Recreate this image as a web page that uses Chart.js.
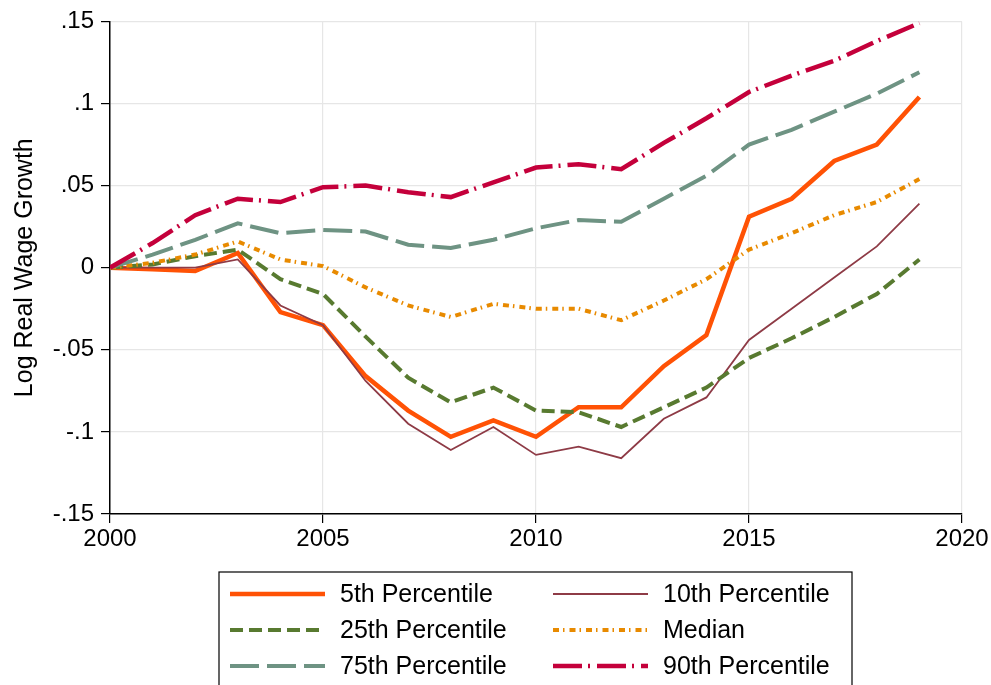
<!DOCTYPE html>
<html>
<head>
<meta charset="utf-8">
<script src="https://cdn.jsdelivr.net/npm/chart.js@4"></script>
<style>
  html, body { margin: 0; padding: 0; background: #fff; }
  canvas { display: block; }
</style>
</head>
<body>
<canvas id="chart" width="991" height="685"></canvas>
<script>
// log real wage growth since 2000, by percentile
const years = [2000, 2001, 2002, 2003, 2004, 2005, 2006, 2007, 2008, 2009,
               2010, 2011, 2012, 2013, 2014, 2015, 2016, 2017, 2018, 2019];

const p5     = [0, -0.001, -0.002, 0.009, -0.027, -0.035, -0.066, -0.087, -0.103, -0.093,
                -0.103, -0.085, -0.085, -0.060, -0.041, 0.031, 0.042, 0.065, 0.075, 0.104];
const p10    = [0, 0, 0, 0.005, -0.023, -0.035, -0.069, -0.095, -0.111, -0.097,
                -0.114, -0.109, -0.116, -0.092, -0.079, -0.044, -0.025, -0.006, 0.013, 0.039];
const p25    = [0, 0.002, 0.007, 0.011, -0.007, -0.016, -0.042, -0.067, -0.082, -0.073,
                -0.087, -0.088, -0.097, -0.085, -0.073, -0.055, -0.043, -0.030, -0.016, 0.005];
const median = [0, 0.003, 0.008, 0.016, 0.005, 0.001, -0.012, -0.023, -0.030, -0.022,
                -0.025, -0.025, -0.032, -0.020, -0.007, 0.011, 0.021, 0.032, 0.040, 0.054];
const p75    = [0, 0.008, 0.017, 0.027, 0.021, 0.023, 0.022, 0.014, 0.012, 0.017,
                0.024, 0.029, 0.028, 0.042, 0.056, 0.075, 0.084, 0.095, 0.106, 0.119];
const p90    = [0, 0.015, 0.032, 0.042, 0.040, 0.049, 0.050, 0.046, 0.043, 0.052,
                0.061, 0.063, 0.060, 0.076, 0.091, 0.107, 0.117, 0.126, 0.138, 0.149];

const seriesLabels = ['5th Percentile', '10th Percentile', '25th Percentile',
                      'Median', '75th Percentile', '90th Percentile'];
const xTicks = [2000, 2005, 2010, 2015, 2020];
const yTicks = [-0.15, -0.1, -0.05, 0, 0.05, 0.1, 0.15];

const FONT = "'Liberation Sans', Arial, Helvetica, sans-serif";

function pts(vals) {
  return vals.map((v, i) => ({ x: years[i], y: v }));
}

const styles = [
  { color: '#ff5205', width: 4.5, dash: [] },
  { color: '#8e3b46', width: 1.8, dash: [] },
  { color: '#587a30', width: 4,   dash: [13, 6] },
  { color: '#e88a00', width: 4,   dash: [6, 4, 1.5, 5] },
  { color: '#6e9383', width: 4,   dash: [29, 8] },
  { color: '#c4003b', width: 4.5, dash: [29, 6, 2, 7] }
];

const allSeries = [p5, p10, p25, median, p75, p90];

const datasets = allSeries.map((vals, i) => ({
  label: seriesLabels[i],
  data: pts(vals),
  borderColor: styles[i].color,
  borderWidth: styles[i].width,
  borderDash: styles[i].dash,
  pointRadius: 0,
  tension: 0,
  fill: false,
  order: allSeries.length - i
}));

// boxed two-column legend under the plot, like the Stata one
const boxLegend = {
  id: 'boxLegend',
  afterDraw(chart) {
    const ctx = chart.ctx;
    ctx.save();
    ctx.strokeStyle = '#000';
    ctx.lineWidth = 1.2;
    ctx.strokeRect(219, 572, 633, 130);
    const colX = [230, 553];
    const rowY = [594, 630, 666];
    chart.data.datasets.forEach((ds, i) => {
      const x = colX[i % 2];
      const y = rowY[Math.floor(i / 2)];
      ctx.beginPath();
      ctx.strokeStyle = ds.borderColor;
      ctx.lineWidth = ds.borderWidth;
      ctx.setLineDash(ds.borderDash);
      ctx.moveTo(x, y);
      ctx.lineTo(x + 95, y);
      ctx.stroke();
      ctx.setLineDash([]);
      ctx.fillStyle = '#000';
      ctx.font = '25px ' + FONT;
      ctx.textBaseline = 'middle';
      ctx.fillText(ds.label, x + 110, y + 1);
    });
    ctx.restore();
  }
};

new Chart(document.getElementById('chart'), {
  type: 'line',
  data: { datasets },
  options: {
    responsive: false,
    animation: false,
    layout: { padding: { top: 17, right: 29, bottom: 120, left: 0 } },
    plugins: {
      legend: { display: false },
      tooltip: { enabled: false }
    },
    scales: {
      x: {
        type: 'linear',
        min: 2000,
        max: 2020,
        afterBuildTicks: (s) => { s.ticks = xTicks.map(v => ({ value: v })); },
        afterFit: (s) => { s.height = 51; },
        ticks: {
          color: '#000',
          font: { family: FONT, size: 24 },
          padding: 2,
          maxRotation: 0,
          callback: (v) => String(v)
        },
        grid: { color: '#e6e6e6', lineWidth: 1.2, tickLength: 9, tickColor: '#000' },
        border: { color: '#000', width: 1.5 }
      },
      y: {
        min: -0.15,
        max: 0.15,
        afterBuildTicks: (s) => { s.ticks = yTicks.map(v => ({ value: v })); },
        afterFit: (s) => { s.width = 110; },
        ticks: {
          color: '#000',
          font: { family: FONT, size: 24 },
          padding: 7,
          callback: (v) => {
            const s = String(Number(v.toFixed(2)));
            return s.replace('0.', '.');
          }
        },
        title: {
          display: true,
          text: 'Log Real Wage Growth',
          color: '#000',
          font: { family: FONT, size: 25 },
          padding: { top: 10, bottom: 0 }
        },
        grid: { color: '#e6e6e6', lineWidth: 1.2, tickLength: 9, tickColor: '#000' },
        border: { color: '#000', width: 1.5 }
      }
    }
  },
  plugins: [boxLegend]
});
</script>
</body>
</html>
